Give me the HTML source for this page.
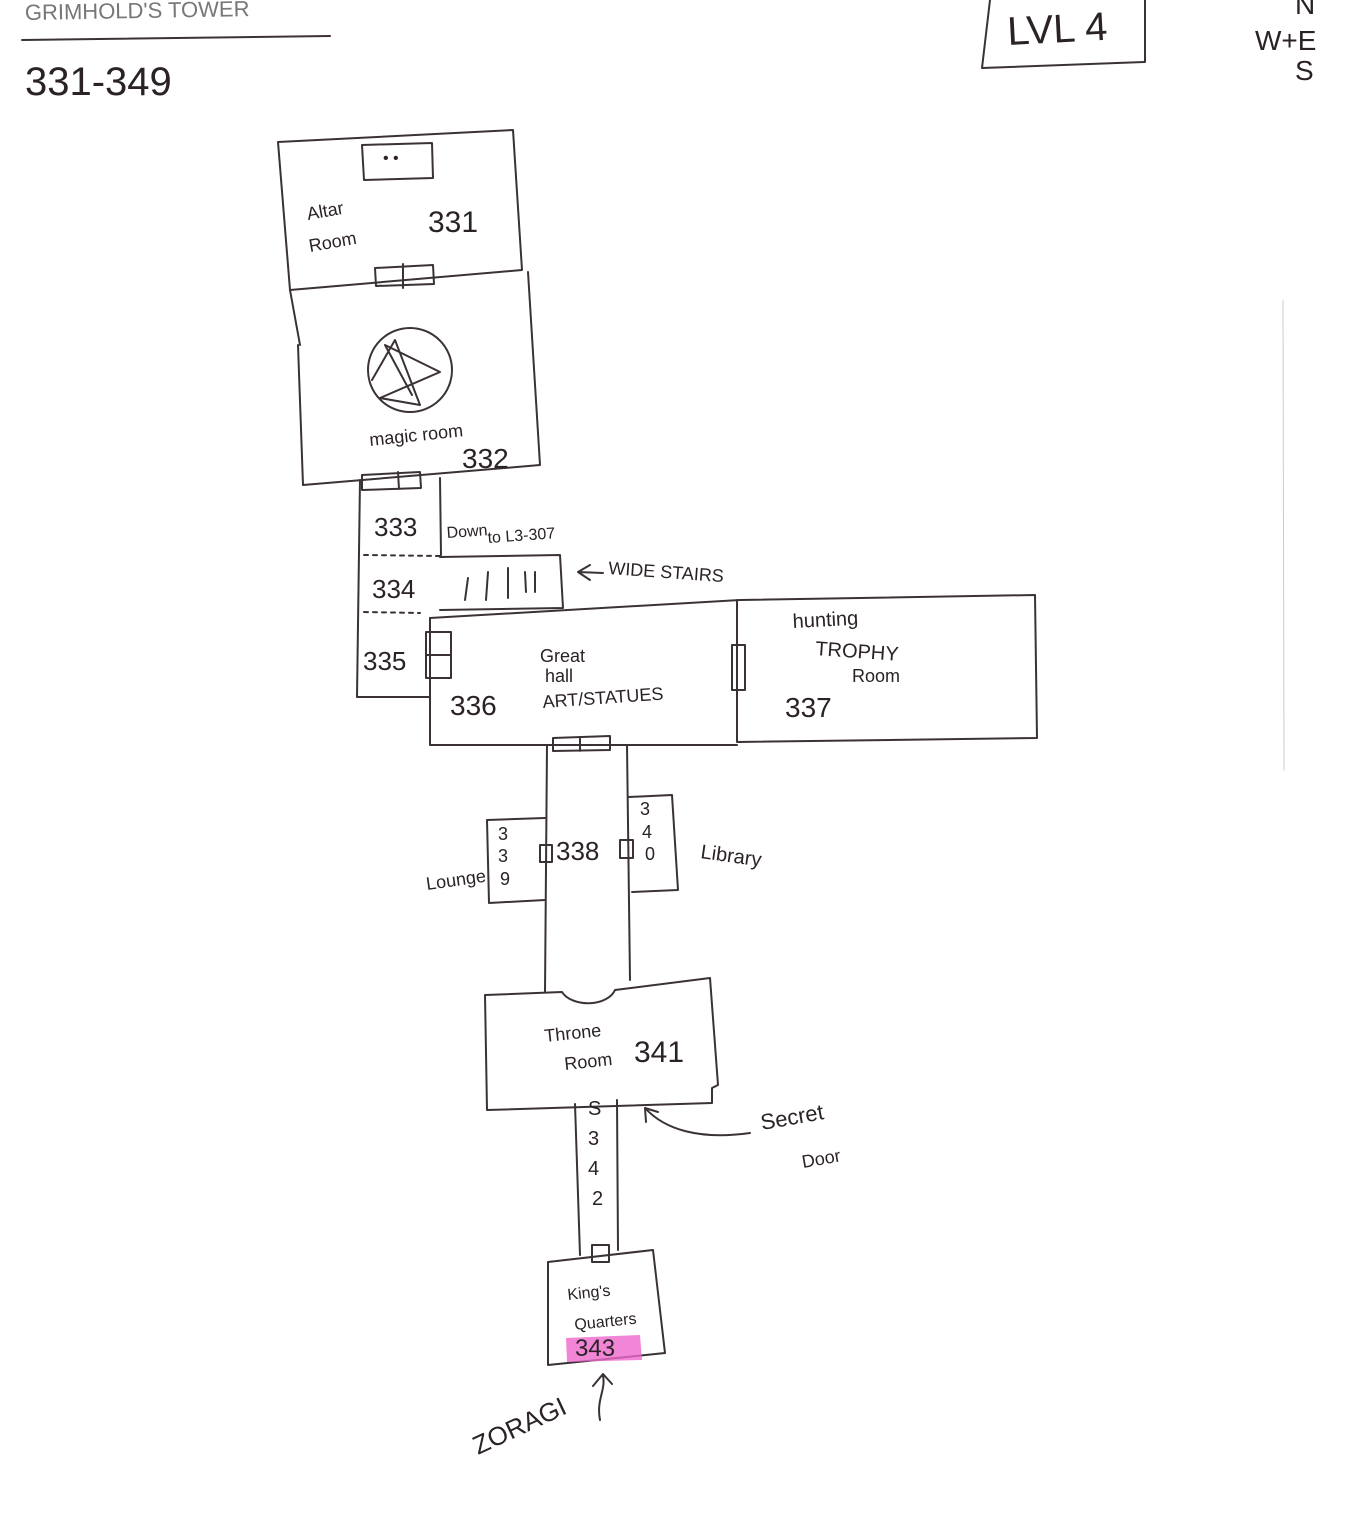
<!DOCTYPE html>
<html><head><meta charset="utf-8"><style>
html,body{margin:0;padding:0;background:#fff;}
svg{display:block;}
text{font-family:"Liberation Sans",sans-serif;fill:#2a2226;}
</style></head><body>
<svg width="1370" height="1520" viewBox="0 0 1370 1520" xmlns="http://www.w3.org/2000/svg">
<g fill="none" stroke="#3a3236" stroke-width="2" stroke-linejoin="round" stroke-linecap="round">
<path d="M22 40 L330 36"/>
<path d="M990 0 L982 68 L1145 62 L1145 0"/>
<path d="M1283 300 L1284 770" stroke="#ccc" stroke-width="1"/>
<path d="M278 142 L513 130 L522 270 L290 290 Z"/>
<path d="M362 145 L432 143 L433 178 L364 180 Z"/>
<path d="M375 268 L433 265 L434 284 L376 286 Z M403 264 L403 288"/>
<path d="M290 290 L300 345 M528 272 L540 465 L303 485 L298 345"/>
<circle cx="410" cy="370" r="42"/>
<path d="M372 380 L395 340 L420 405 L380 398 L440 372 L385 345 L412 395"/>
<path d="M360 480 L357 697 L430 697 M440 478 L441 555"/>
<path d="M362 475 L420 472 L421 488 L362 490 Z M398 472 L399 489"/>
<path d="M364 555 L440 556" stroke-dasharray="4 5"/>
<path d="M364 612 L420 613" stroke-dasharray="4 5"/>
<path d="M440 557 L560 555 L563 608 L440 610"/>
<path d="M468 578 L465 600 M488 572 L486 600 M508 568 L508 598 M525 572 L526 592 M535 572 L535 592"/>
<path d="M430 618 L740 600 L1035 595 L1037 738 L737 742 L737 600"/>
<path d="M430 618 L430 745 L737 745"/>
<path d="M426 632 L451 632 L451 678 L426 678 Z M426 655 L451 655"/>
<path d="M732 645 L745 645 L745 690 L732 690 Z"/>
<path d="M553 738 L610 736 L610 750 L553 751 Z M580 737 L580 751"/>
<path d="M547 745 L545 992 M627 745 L630 980"/>
<path d="M487 820 L545 818 M487 820 L489 903 L545 900"/>
<path d="M629 797 L672 795 L678 890 L632 892"/>
<path d="M540 845 L552 845 L552 862 L540 862 Z M620 840 L633 840 L633 858 L620 858 Z"/>
<path d="M485 995 L562 992 A28 18 0 0 0 615 990 L710 978 L718 1085 L712 1088 L712 1103 L487 1110 Z"/>
<path d="M575 1104 L580 1255 M617 1100 L618 1250"/>
<path d="M592 1245 L609 1245 L609 1262 L592 1262 Z"/>
<path d="M548 1262 L653 1250 L665 1353 L548 1365 Z"/>
<path d="M600 1420 C596 1400 606 1390 603 1376 M593 1386 L603 1374 L612 1384"/>
<path d="M750 1133 C700 1140 665 1130 645 1108 M645 1108 L646 1122 M645 1108 L658 1112"/>
<path d="M603 573 L578 572 M590 565 L578 572 L590 580"/>
</g>
<path d="M566 1338 L640 1335 L642 1360 L567 1362 Z" fill="#ee66cc" opacity="0.8"/>
<g font-size="22">
<text x="25" y="20" font-size="22" style="fill:#777" transform="rotate(-1 25 20)">GRIMHOLD'S TOWER</text>
<text x="25" y="95" font-size="40">331-349</text>
<text x="1008" y="45" font-size="40" transform="rotate(-3 1008 45)">LVL 4</text>
<text x="1295" y="14" font-size="28">N</text>
<text x="1255" y="50" font-size="28">W+E</text>
<text x="1295" y="80" font-size="28">S</text>
<text x="383" y="163" font-size="16">• •</text>
<text x="308" y="220" font-size="18" transform="rotate(-10 308 220)">Altar</text>
<text x="310" y="252" font-size="18" transform="rotate(-10 310 252)">Room</text>
<text x="428" y="232" font-size="30">331</text>
<text x="370" y="446" font-size="18" transform="rotate(-6 370 446)">magic room</text>
<text x="462" y="468" font-size="28">332</text>
<text x="374" y="536" font-size="26">333</text>
<text x="372" y="598" font-size="26">334</text>
<text x="363" y="670" font-size="26">335</text>
<text x="447" y="538" font-size="16" transform="rotate(-4 447 538)">Down</text>
<text x="488" y="543" font-size="16" transform="rotate(-4 488 543)">to L3-307</text>
<text x="608" y="574" font-size="18" transform="rotate(4 608 574)">WIDE  STAIRS</text>
<text x="540" y="662" font-size="18">Great</text>
<text x="545" y="682" font-size="18">hall</text>
<text x="543" y="708" font-size="18" transform="rotate(-4 543 708)">ART/STATUES</text>
<text x="450" y="715" font-size="28">336</text>
<text x="793" y="628" font-size="20" transform="rotate(-3 793 628)">hunting</text>
<text x="815" y="655" font-size="20" transform="rotate(4 815 655)">TROPHY</text>
<text x="852" y="682" font-size="18">Room</text>
<text x="785" y="717" font-size="28">337</text>
<text x="556" y="860" font-size="26">338</text>
<text x="498" y="840" font-size="18">3</text><text x="498" y="862" font-size="18">3</text><text x="500" y="885" font-size="18">9</text>
<text x="640" y="815" font-size="18">3</text><text x="642" y="838" font-size="18">4</text><text x="645" y="860" font-size="18">0</text>
<text x="427" y="890" font-size="18" transform="rotate(-8 427 890)">Lounge</text>
<text x="700" y="858" font-size="20" transform="rotate(8 700 858)">Library</text>
<text x="545" y="1042" font-size="18" transform="rotate(-6 545 1042)">Throne</text>
<text x="565" y="1070" font-size="18" transform="rotate(-6 565 1070)">Room</text>
<text x="634" y="1062" font-size="30">341</text>
<text x="588" y="1115" font-size="20">S</text>
<text x="588" y="1145" font-size="20">3</text><text x="588" y="1175" font-size="20">4</text><text x="592" y="1205" font-size="20">2</text>
<text x="762" y="1130" font-size="22" transform="rotate(-10 762 1130)">Secret</text>
<text x="803" y="1168" font-size="18" transform="rotate(-10 803 1168)">Door</text>
<text x="568" y="1300" font-size="16" transform="rotate(-6 568 1300)">King's</text>
<text x="575" y="1330" font-size="16" transform="rotate(-6 575 1330)">Quarters</text>
<text x="575" y="1356" font-size="24">343</text>
<text x="478" y="1455" font-size="26" transform="rotate(-25 478 1455)">ZORAGI</text>
</g>
</svg>
</body></html>
